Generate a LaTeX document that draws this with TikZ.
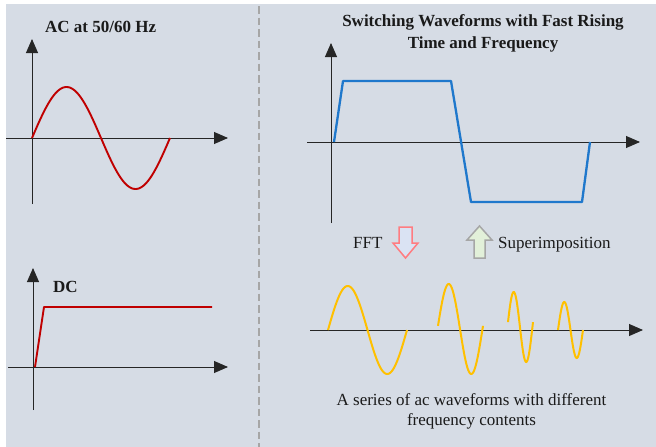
\documentclass[tikz,border=0pt]{standalone}
\usepackage{fontspec}
\setmainfont{Liberation Serif}
\usetikzlibrary{arrows.meta}
\definecolor{bgc}{HTML}{D6DCE5}
\definecolor{acred}{HTML}{C00000}
\definecolor{swblue}{HTML}{1F78CC}
\definecolor{wyel}{HTML}{FFC000}
\definecolor{sepgray}{HTML}{A6A6A6}
\definecolor{fftline}{HTML}{FF7C80}
\definecolor{fftfill}{HTML}{DAE3F3}
\definecolor{supline}{HTML}{A6A6A6}
\definecolor{supfill}{HTML}{E2F0D9}
\definecolor{txt}{HTML}{1A1A1A}
\tikzset{
  axis/.style={draw=black!85, line width=0.9pt, -{Triangle[length=14pt,width=12pt]}},
  lbl/.style={inner sep=0pt, text=txt, font=\fontsize{17}{20}\selectfont},
  blbl/.style={lbl, font=\fontsize{17}{20}\selectfont\bfseries},
  acwave/.style={draw=acred, line width=1.9pt},
  swwave/.style={draw=swblue, line width=2.3pt, line join=round},
  ywave/.style={draw=wyel, line width=2pt},
}
\begin{document}
\begin{tikzpicture}[x=1pt,y=-1pt]
\useasboundingbox (0,0) rectangle (656,447);
\fill[white] (0,0) rectangle (656,447);
\fill[bgc] (6,4) rectangle (656,447);
% separator
\draw[sepgray, line width=1.8pt, dash pattern=on 7.5pt off 4pt] (259,6) -- (259,447);

% ---------- AC ----------
\node[blbl, anchor=base west] (actitle) at (45,32) {AC at 50/60 Hz};
\coordinate (acy0) at (32,204);
\coordinate (acy1) at (32,39);
\coordinate (acx0) at (6,138);
\coordinate (acx1) at (228,138);
\draw[axis] (acy0) -- (acy1);
\draw[axis] (acx0) -- (acx1);
\draw[acwave] plot[domain=0:138, samples=120, smooth] ({32+\x},{138-51*sin(\x/138*360)});

% ---------- DC ----------
\node[blbl, anchor=base west] (dctitle) at (53,292) {DC};
\coordinate (dcy0) at (33,410);
\coordinate (dcy1) at (33,268);
\coordinate (dcx0) at (8,367);
\coordinate (dcx1) at (228,367);
\draw[axis] (dcy0) -- (dcy1);
\draw[axis] (dcx0) -- (dcx1);
\coordinate (dc0) at (35,367);
\coordinate (dc1) at (44,307);
\coordinate (dc2) at (212,307);
\draw[acwave, line join=round] (dc0) -- (dc1) -- (dc2);

% ---------- Switching ----------
\node[blbl, anchor=base] (swtitle1) at (483,27) {Switching Waveforms with Fast Rising};
\node[blbl, anchor=base] (swtitle2) at (483,48) {Time and Frequency};
\coordinate (swy0) at (331,223);
\coordinate (swy1) at (331,43);
\coordinate (swx0) at (307,142);
\coordinate (swx1) at (640,142);
\draw[axis] (swy0) -- (swy1);
\draw[axis] (swx0) -- (swx1);
\coordinate (s0) at (334,142);
\coordinate (s1) at (343,81);
\coordinate (s2) at (451,81);
\coordinate (s3) at (471,202);
\coordinate (s4) at (582,202);
\coordinate (s5) at (590,142);
\draw[swwave] (s0) -- (s1) -- (s2) -- (s3) -- (s4) -- (s5);

% ---------- FFT / Superimposition ----------
\node[lbl, anchor=base west] (fft) at (353,248) {FFT};
\draw[fftline, fill=fftfill, line width=1.5pt, line join=miter]
  (399,227) -- (412,227) -- (412,243) -- (418,243) -- (405.5,258) -- (393,243) -- (399,243) -- cycle;
\node[lbl, anchor=base west] (sup) at (498,248) {Superimposition};
\draw[supline, fill=supfill, line width=1.5pt, line join=miter]
  (474,258) -- (485,258) -- (485,240) -- (492,240) -- (479.5,226) -- (467,240) -- (474,240) -- cycle;

% ---------- series of waves ----------
\coordinate (wx0) at (310,330);
\coordinate (wx1) at (643,330);
\draw[axis] (wx0) -- (wx1);
\draw[ywave] plot[domain=0:79, samples=100, smooth] ({328+\x},{330-44*sin(\x/79*360)});
\draw[ywave] plot[domain=0:45, samples=80, smooth] ({438+\x},{329-45*sin(\x/45*360+4)});
\draw[ywave] plot[domain=0:25, samples=60, smooth] ({508+\x},{327-35*sin(\x/25*360+8)});
\draw[ywave] plot[domain=0:25, samples=60, smooth] ({558+\x},{330-28*sin(\x/25*360)});

\node[lbl, anchor=base] (cap1) at (471.5,405) {A series of ac waveforms with different};
\node[lbl, anchor=base] (cap2) at (471.5,425) {frequency contents};
\end{tikzpicture}
\end{document}
